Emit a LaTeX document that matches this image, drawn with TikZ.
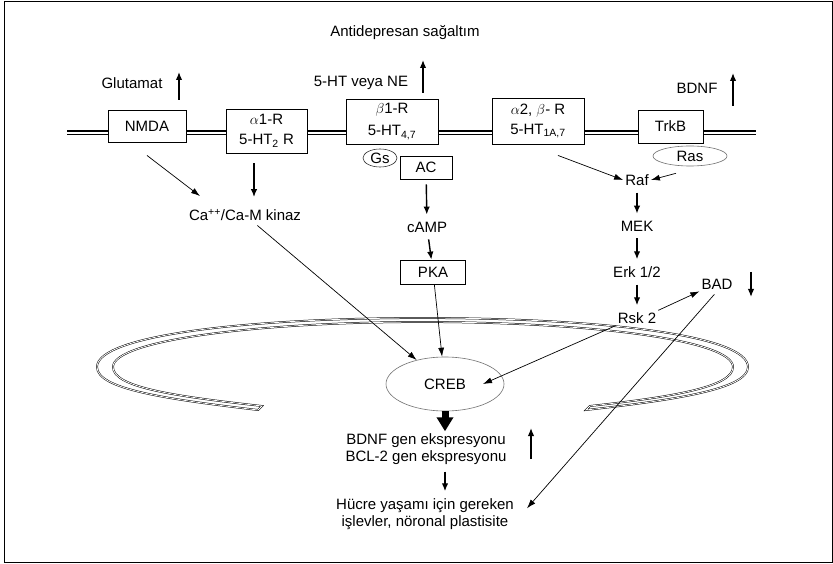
\documentclass[tikz,border=0pt]{standalone}
\usepackage{fontspec}
\setmainfont{Liberation Sans}
\usetikzlibrary{calc}
\usetikzlibrary{shapes.geometric}
\usetikzlibrary{arrows.meta}
\usetikzlibrary{positioning}
\tikzset{
	receptor/.style={rectangle, draw, fill=white, line width=0.9pt, align=center, inner sep=2pt},
	protein/.style={ellipse, draw=black!55, fill=white, line width=0.6pt, inner sep=0pt},
	mol/.style={inner sep=2pt, align=center},
	arrow/.style={draw, -{Latex[length=8pt,width=6.5pt]}, line width=1.4pt, shorten <=5pt, shorten >=5pt},
	thinarrow/.style={draw, -{Latex[length=9pt,width=6pt]}, line width=0.7pt},
	bigarrow/.style={draw, -{Triangle[length=14pt,width=16pt]}, line width=7pt},
	membrane/.style={draw, double=white, double distance=2.6pt, line width=1.2pt},
	envelope/.style={draw, double=white, double distance=0.8pt, line width=0.5pt}
}

\begin{document}
\begin{tikzpicture}[x=1pt, y=-1pt, node distance=46pt, font=\fontsize{15}{17}\selectfont]
\useasboundingbox (0,0) rectangle (833,564);
\draw[line width=1pt] (4,2) rectangle (832,562);

% cell membrane and nuclear envelope
\draw[membrane] (67,133) -- (756,133);
\draw[envelope] (258,410) .. controls (165,399) and (97,389) .. (97,367)
	.. controls (97,335) and (250,318) .. (422,318)
	.. controls (600,318) and (748,335) .. (748,367)
	.. controls (748,389) and (675,400) .. (586,410)
	-- (590,406)
	.. controls (672,397) and (733,387) .. (733,367)
	.. controls (733,340) and (590,322) .. (422,322)
	.. controls (260,322) and (113,340) .. (113,367)
	.. controls (113,387) and (172,396) .. (262,406) -- cycle;

% receptors
\node[receptor, minimum width=78pt, minimum height=32pt] (nmda) at (147,126) {NMDA};
\node[receptor, minimum width=81pt, minimum height=44pt] (alpha1) at (266.5,131) {$\alpha$1-R\\[3pt]5-HT\textsubscript{2} R};
\node[receptor, minimum width=92pt, minimum height=45pt] (beta1) at (392,121.5) {$\beta$1-R\\[5pt]5-HT\textsubscript{4,7}};
\node[receptor, minimum width=92pt, minimum height=46pt] (alpha2) at (538,121) {$\alpha$2, $\beta$- R\\[3pt]5-HT\textsubscript{1A,7}};
\node[receptor, minimum width=65pt, minimum height=33pt] (trkb) at (670.5,126.5) {TrkB};

\node[protein, draw=black!80, minimum width=34pt, minimum height=18pt] (gs) at (380,158) {Gs};
\node[receptor, line width=0.8pt, minimum width=52pt, minimum height=23pt] (ac) at (426,167.5) {AC};
\node[protein, minimum width=74pt, minimum height=20pt] (ras) at (690,156) {Ras};

\node[mol] (cakinaz) at (245,215) {Ca\textsuperscript{++}/Ca-M kinaz};
\node[mol] (camp) at (427,227) {cAMP};
\node[receptor, line width=0.8pt, minimum width=65pt, minimum height=24pt] (pka) at (433,272) {PKA};

\node[mol] (raf) at (637,180) {Raf};
\node[mol, below of=raf] (mek) {MEK};
\node[mol, below of=mek] (erk) {Erk 1/2};
\node[mol, below of=erk] (rsk) {Rsk 2};
\node[mol] (bad) at (717,284) {BAD};

\node[protein, minimum width=118pt, minimum height=54pt] (creb) at (445,384) {CREB};
\node[mol] (genexp) at (426,449) {BDNF gen ekspresyonu\\BCL-2 gen ekspresyonu};
\node[mol] (hucre) at (425,514) {Hücre yaşamı için gereken\\işlevler, nöronal plastisite};

% top labels
\node[mol] (antidep) at (405,33) {Antidepresan sağaltım};
\node[mol] (glut) at (132,83) {Glutamat};
\node[mol] (htne) at (361,83) {5-HT veya NE};
\node[mol] (bdnf) at (697,88) {BDNF};

\coordinate (glutup) at (179,100);
\coordinate (htneup) at (423,93);
\coordinate (bdnfup) at (733,106);
\coordinate (baddown) at (751,272);
\coordinate (geneup) at (531,459);

\draw [arrow, shorten <=0pt, shorten >=0pt] (glutup) -- ++(0,-28);
\draw [arrow, shorten <=0pt, shorten >=0pt] (htneup) -- ++(0,-33);
\draw [arrow, shorten <=0pt, shorten >=0pt] (bdnfup) -- ++(0,-33);
\draw [arrow, shorten <=0pt, shorten >=0pt] (baddown) -- ++(0,25);
\draw [arrow, shorten <=0pt, shorten >=0pt] (geneup) -- ++(0,-31);

\draw [thinarrow] ([yshift=-13pt]nmda.south) -- ([xshift=-45pt,yshift=11pt]cakinaz.north);
\draw [arrow, shorten <=10pt, shorten >=10pt] ([xshift=9pt]cakinaz.north |- alpha1.south) -- ([xshift=9pt]cakinaz.north);
\draw [thinarrow, shorten <=4pt] (cakinaz) -- (creb);
\draw [arrow] (ac) -- (camp);
\draw [arrow, shorten >=0pt] (camp) -- (pka);
\draw [thinarrow] (pka) -- (creb);
\draw [thinarrow] ([xshift=20pt,yshift=-11pt]alpha2.south) -- (raf.west);
\draw [thinarrow] ([xshift=-14pt,yshift=-7pt]ras.south) -- (raf.east);
\draw [arrow] (raf) -- (mek);
\draw [arrow] (mek) -- (erk);
\draw [arrow] (erk) -- (rsk);
\draw [thinarrow] (rsk.north east) -- (bad.south west);
\draw [thinarrow] (rsk.south west) -- ([xshift=38pt]creb.center);
\draw [thinarrow, shorten <=4pt] (bad.south) -- ([xshift=11pt,yshift=-12pt]hucre.north east);
\draw [bigarrow] (creb.south) -- (creb.south |- genexp.north);
\draw [arrow] (genexp.south -| creb) -- (hucre.north -| creb);

\end{tikzpicture}
\end{document}
